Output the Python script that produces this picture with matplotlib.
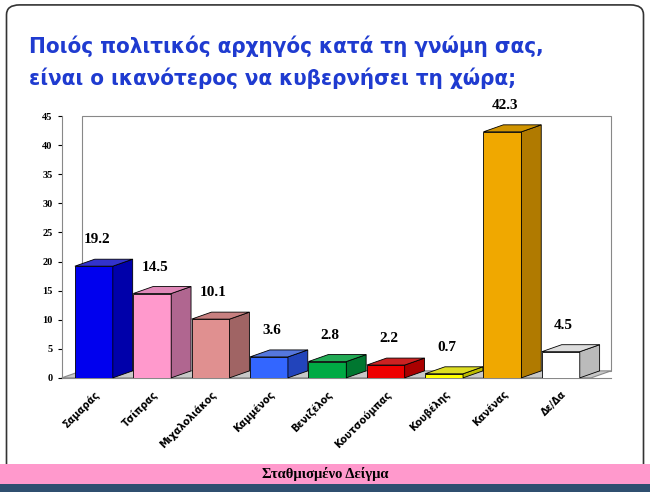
import matplotlib.pyplot as plt
from matplotlib.patches import Polygon, Rectangle, FancyBboxPatch

names = ['Σαμαράς', 'Τσίπρας', 'Μιχαλολιάκος', 'Καμμένος', 'Βενιζέλος',
         'Κουτσούμπας', 'Κουβέλης', 'Κανένας', 'Δε/Δα']
values = [19.2, 14.5, 10.1, 3.6, 2.8, 2.2, 0.7, 42.3, 4.5]
front = ['#0000EE', '#FF99CC', '#E09090', '#3366FF', '#00AA44',
         '#EE0000', '#FFFF00', '#F0A800', '#FFFFFF']
side = ['#0000AA', '#B06690', '#A06464', '#2244BB', '#007730',
        '#AA0000', '#BBBB00', '#B07A00', '#BBBBBB']
top = ['#3333CC', '#E088B8', '#C88080', '#5577DD', '#22AA55',
       '#CC2222', '#DDDD22', '#D09400', '#DDDDDD']
yticks = list(range(0, 50, 5))

fig = plt.figure(figsize=(6.5, 4.92), dpi=100)
fig.patch.set_facecolor('white')

# outer rounded frame
fig.patches.append(FancyBboxPatch((0.01, 0.03), 0.98, 0.96, boxstyle='round,pad=0,rounding_size=0.02',
                                  transform=fig.transFigure, fill=False, ec='#333333', lw=1.2))
# footer band
fig.patches.append(Rectangle((0, 0.017), 1, 0.04, transform=fig.transFigure, fc='#FF99CC', ec='none'))
fig.patches.append(Rectangle((0, 0), 1, 0.017, transform=fig.transFigure, fc='#2F4F6F', ec='none'))
fig.text(0.5, 0.037, 'Σταθμισμένο Δείγμα', ha='center', va='center', fontsize=10.5,
         fontweight='bold', family='Liberation Serif')

title_kw = dict(color='#1F3BD0', fontsize=16, fontweight='bold', family='DejaVu Sans',
                fontstretch='condensed', va='center')
fig.text(0.045, 0.905, 'Ποιός πολιτικός αρχηγός κατά τη γνώμη σας,', **title_kw)
fig.text(0.045, 0.84, 'είναι ο ικανότερος να κυβερνήσει τη χώρα;', **title_kw)

ax = fig.add_axes([0.095, 0.232, 0.845, 0.532])
w, dx, dy = 0.65, 0.34, 1.2
ax.set_xlim(-0.55, 8.86)
ax.set_ylim(0, 45)

# back wall and floor
ax.add_patch(Rectangle((-0.55 + dx, dy), 9.41 - dx, 45 - dy, fc='white', ec='#888888', lw=0.8,
                       zorder=0, clip_on=False))
ax.add_patch(Polygon([(-0.55, 0), (8.86 - dx, 0), (8.86, dy), (-0.55 + dx, dy)],
                     fc='#C8C8C8', ec='#888888', lw=0.8, zorder=0, clip_on=False))

for i, v in enumerate(values):
    x0 = i - w / 2
    ax.add_patch(Rectangle((x0, 0), w, v, fc=front[i], ec='black', lw=0.6, zorder=3))
    ax.add_patch(Polygon([(x0 + w, 0), (x0 + w + dx, dy), (x0 + w + dx, v + dy), (x0 + w, v)],
                         fc=side[i], ec='black', lw=0.6, zorder=3, clip_on=False))
    ax.add_patch(Polygon([(x0, v), (x0 + dx, v + dy), (x0 + w + dx, v + dy), (x0 + w, v)],
                         fc=top[i], ec='black', lw=0.6, zorder=3, clip_on=False))
    ax.text(i + 0.05, v + dy + 2.2, f'{v:.1f}', ha='center', va='bottom', fontsize=11,
            fontweight='bold', family='Liberation Serif')

ax.set_yticks(yticks)
ax.set_yticklabels([str(t) for t in yticks], fontsize=7.5, fontweight='bold', family='Liberation Serif')
ax.set_xticks(range(len(names)))
ax.set_xticklabels(names, rotation=45, ha='right', rotation_mode='anchor', fontsize=7,
                   fontweight='bold')
ax.tick_params(axis='x', length=0, pad=8)
ax.tick_params(axis='y', length=3)
for s in ['top', 'right']:
    ax.spines[s].set_visible(False)
ax.spines['left'].set_color('#888888')
ax.spines['bottom'].set_color('#888888')

fig.savefig('out.png', dpi=100)
